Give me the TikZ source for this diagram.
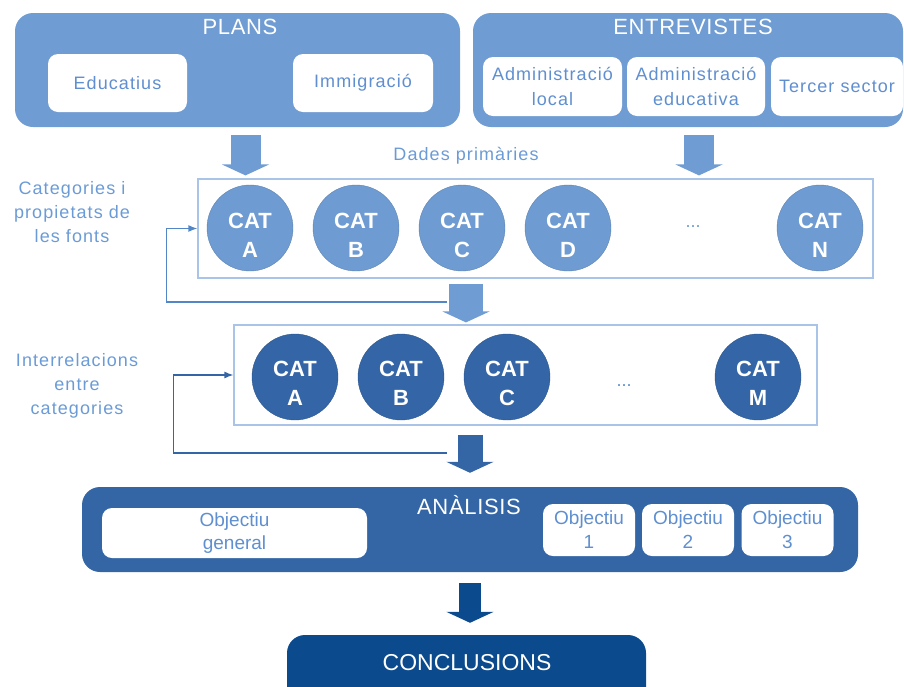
\documentclass[tikz,border=0pt]{standalone}
\usepackage{fontspec}
\setmainfont{Liberation Sans}
\newfontfamily\spacedfont{Liberation Sans}[LetterSpace=6]
\newfontfamily\titlefont{Liberation Sans}[LetterSpace=3]
\usetikzlibrary{arrows.meta,calc}
\definecolor{planblue}{HTML}{6F9CD2}
\definecolor{catlight}{HTML}{6E9BD1}
\definecolor{catdark}{HTML}{3465A6}
\definecolor{anablue}{HTML}{3466A6}
\definecolor{concblue}{HTML}{0B4A8C}
\definecolor{textblue}{HTML}{5F8FD0}
\definecolor{labelblue}{HTML}{6B9BD6}
\definecolor{framecol}{HTML}{A9C4E6}
\definecolor{backblue}{HTML}{5286C6}
\begin{document}
\begin{tikzpicture}[
		x=1pt,y=-1pt,
		bigbox/.style={fill=#1,rounded corners=18pt,inner sep=0pt},
		whitebox/.style={fill=white,rounded corners=10pt,inner sep=0pt,align=center,text=textblue,font=\spacedfont\fontsize{18}{25}\selectfont},
		boxtitle/.style={text=white,font=\titlefont\fontsize{22}{26}\selectfont},
		catframe/.style={draw=framecol,line width=1.2pt,inner sep=0pt},
		cat/.style={circle,draw=#1!85!black,fill=#1,minimum size=86pt,inner sep=0pt},
		cattext/.style={align=center,text=white,font=\bfseries\fontsize{22}{29}\selectfont},
		sidelabel/.style={align=center,text=labelblue,font=\spacedfont\fontsize{18}{24}\selectfont},
		dotsnode/.style={text=#1,font=\fontsize{18}{20}\selectfont},
		blockarrow/.style={draw=#1,-{Triangle[length=11pt,width=47pt]}},
		backline/.style={draw=#1,line width=1.3pt,-{Latex[length=9pt,width=7pt]}}
	]
	\clip (0,0) rectangle (904,686);
	\node[bigbox=planblue,minimum width=445pt,minimum height=114pt] (plans) at (237.5,70) {};
	\node[boxtitle] (planstitle) at (240,27) {PLANS};
	\node[whitebox,minimum width=139pt,minimum height=58pt] (educ) at (117.5,83) {Educatius};
	\node[whitebox,minimum width=140pt,minimum height=58pt] (immi) at (363,83) {Immigració};
	\node[bigbox=planblue,minimum width=430pt,minimum height=114pt] (entr) at (688,70) {};
	\node[boxtitle] (entrtitle) at (693,27) {ENTREVISTES};
	\node[whitebox,minimum width=139pt,minimum height=59pt] (adloc) at (552.5,86.5) {Administració\\local};
	\node[whitebox,minimum width=138pt,minimum height=59pt] (adedu) at (696,86.5) {Administració\\educativa};
	\node[whitebox,minimum width=132pt,minimum height=59pt] (tercer) at (837,86.5) {Tercer sector};
	\node[sidelabel] (dades) at (466,156) {Dades primàries};

	\node[catframe,minimum width=675pt,minimum height=99pt] (cats1) at (535.5,228.5) {};
	\foreach \x/\l in {250/A,356/B,462/C,568/D,820/N}{
		\node[cat=catlight] (c1\l) at (\x,228) {};
		\node[cattext] (t1\l) at ($(c1\l)+(0,7)$) {CAT\\\l};
	}
	\node[dotsnode=catlight] (dots1) at (693,227) {...};
	\node[sidelabel] (lab1) at (72,212) {Categories i\\propietats de\\les fonts};

	\node[catframe,minimum width=583pt,minimum height=100pt] (cats2) at (525.5,375) {};
	\foreach \x/\l in {295/A,401/B,507/C,758/M}{
		\node[cat=catdark] (c2\l) at (\x,377) {};
		\node[cattext] (t2\l) at ($(c2\l)+(0,6)$) {CAT\\\l};
	}
	\node[dotsnode=textblue] (dots2) at (624,386) {...};
	\node[sidelabel] (lab2) at (77,386) {Interrelacions\\entre\\categories};

	\node[bigbox=anablue,minimum width=776pt,minimum height=85pt] (anal) at (470,529.5) {};
	\node[boxtitle] (analtitle) at (469,505) {ANÀLISIS};
	\node[whitebox,minimum width=265pt,minimum height=50pt,font=\fontsize{19}{23}\selectfont] (objgen) at (234.5,533) {Objectiu\\general};
	\foreach \x/\n in {589/1,688/2,787.5/3}
		\node[whitebox,minimum width=92pt,minimum height=52pt,font=\fontsize{19}{24}\selectfont] (obj\n) at (\x,530) {Objectiu\\\n};

	\node[bigbox=concblue,minimum width=359pt,minimum height=74pt] (concl) at (466.5,672) {};
	\node[boxtitle,font=\fontsize{23}{26}\selectfont] (concltitle) at (467,663) {CONCLUSIONS};

	\draw[blockarrow=planblue,line width=30pt] ($(plans.south)+(8,8)$) -- ($(cats1.north -| plans.south)+(8,-3)$);
	\draw[blockarrow=planblue,line width=30pt] ($(entr.south)+(11,8)$) -- ($(cats1.north -| entr.south)+(11,-3)$);
	\draw[blockarrow=planblue,line width=34pt] ($(cats1.south)+(-69.5,5)$) -- ($(cats2.north)+(-59.5,-2)$);
	\draw[blockarrow=anablue,line width=25pt] ($(cats2.south)+(-55.5,9)$) -- ($(anal.north)+(0,-14)$);
	\draw[blockarrow=concblue,line width=22pt] ($(anal.south)+(0,11)$) -- ($(concl.north)+(3.5,-12)$);

	\coordinate (fb1) at (447,302);
	\coordinate (fb2) at (447,453);
	\draw[backline=backblue] (fb1) -| ($(cats1.west)+(-31,0)$) -- (cats1.west);
	\draw[backline=catdark] (fb2) -| ($(cats2.west)+(-60,0)$) -- (cats2.west);
\end{tikzpicture}
\end{document}
